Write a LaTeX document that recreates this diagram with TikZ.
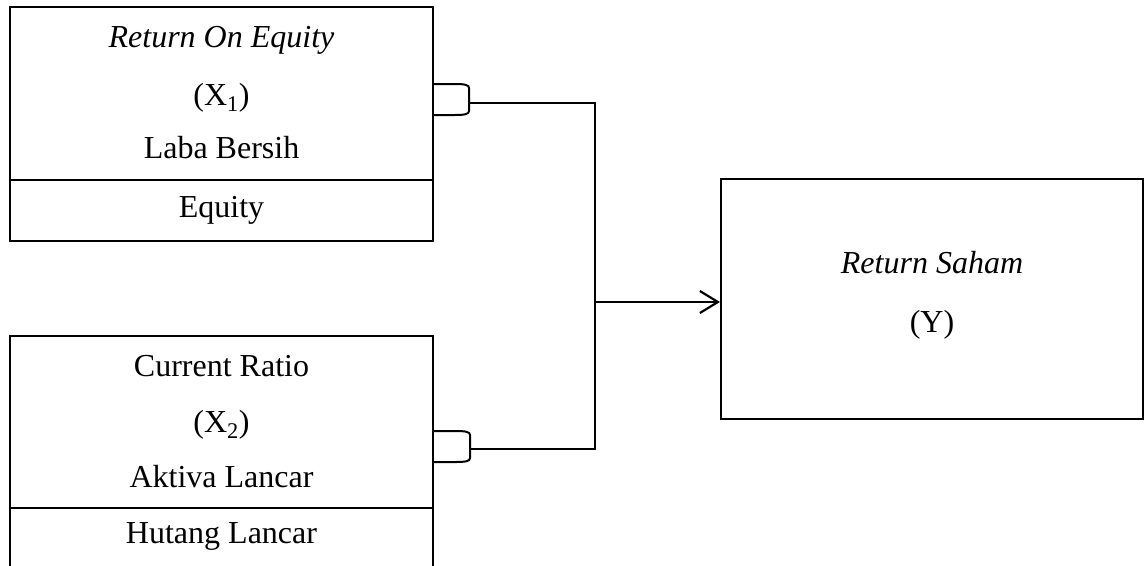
\documentclass[tikz,border=0pt]{standalone}
\usepackage{fontspec}
\setmainfont{Liberation Serif}
\usetikzlibrary{arrows.meta}
\begin{document}
\begin{tikzpicture}[x=1pt,y=-1pt,line width=2pt,
  box/.style={draw,line width=2pt,inner sep=0pt,rectangle},
  lbl/.style={inner sep=0pt,anchor=base,font=\fontsize{32}{38}\selectfont},
  conn/.style={line width=2pt,line join=miter},
  arr/.style={conn,-{Straight Barb[length=18pt,width=22pt,line width=2.2pt]}}]
\clip (0,0) rectangle (1147,565);
\fill[white] (0,0) rectangle (1147,565);
% boxes
\node[box,minimum width=423pt,minimum height=234pt] (roe) at (221.5,124) {};
\node[box,minimum width=423pt,minimum height=264pt] (cr) at (221.5,468) {};
\node[box,minimum width=422pt,minimum height=240pt] (ret) at (932,299) {};
\draw (roe.west |- 0,180) -- (roe.east |- 0,180);
\draw (cr.west |- 0,508) -- (cr.east |- 0,508);
% texts
\node[lbl] (t1) at (221.5,47) {\itshape Return On Equity};
\node[lbl] (t2) at (221.5,105) {(X\textsubscript{1})};
\node[lbl] (t3) at (221.5,158) {Laba Bersih};
\node[lbl] (t4) at (221.5,217) {Equity};
\node[lbl] (u1) at (221.5,376) {Current Ratio};
\node[lbl] (u2) at (221.5,432) {(X\textsubscript{2})};
\node[lbl] (u3) at (221.5,487) {Aktiva Lancar};
\node[lbl] (u4) at (221.5,543) {Hutang Lancar};
\node[lbl] (r1) at (932,273) {\itshape Return Saham};
\node[lbl] (r2) at (932,332) {(Y)};
% brackets
\draw[conn] (roe.east |- 0,84) -- (455,84) .. controls (465,84) and (469,85) .. (469,88)
  -- (469,111) .. controls (469,114) and (465,115) .. (455,115) -- (roe.east |- 0,115);
\draw[conn] (cr.east |- 0,431) -- (456,431) .. controls (466,431) and (470,432) .. (470,435)
  -- (470,458) .. controls (470,461) and (466,462) .. (456,462) -- (cr.east |- 0,462);
\coordinate (j1) at (469,103);
\coordinate (j2) at (470,449);
\coordinate (jn) at (595,302);
\draw[conn] (j1) -- (595,103) -- (595,449) -- (j2);
\draw[arr] (jn) -- (ret.west |- jn);
\end{tikzpicture}
\end{document}
